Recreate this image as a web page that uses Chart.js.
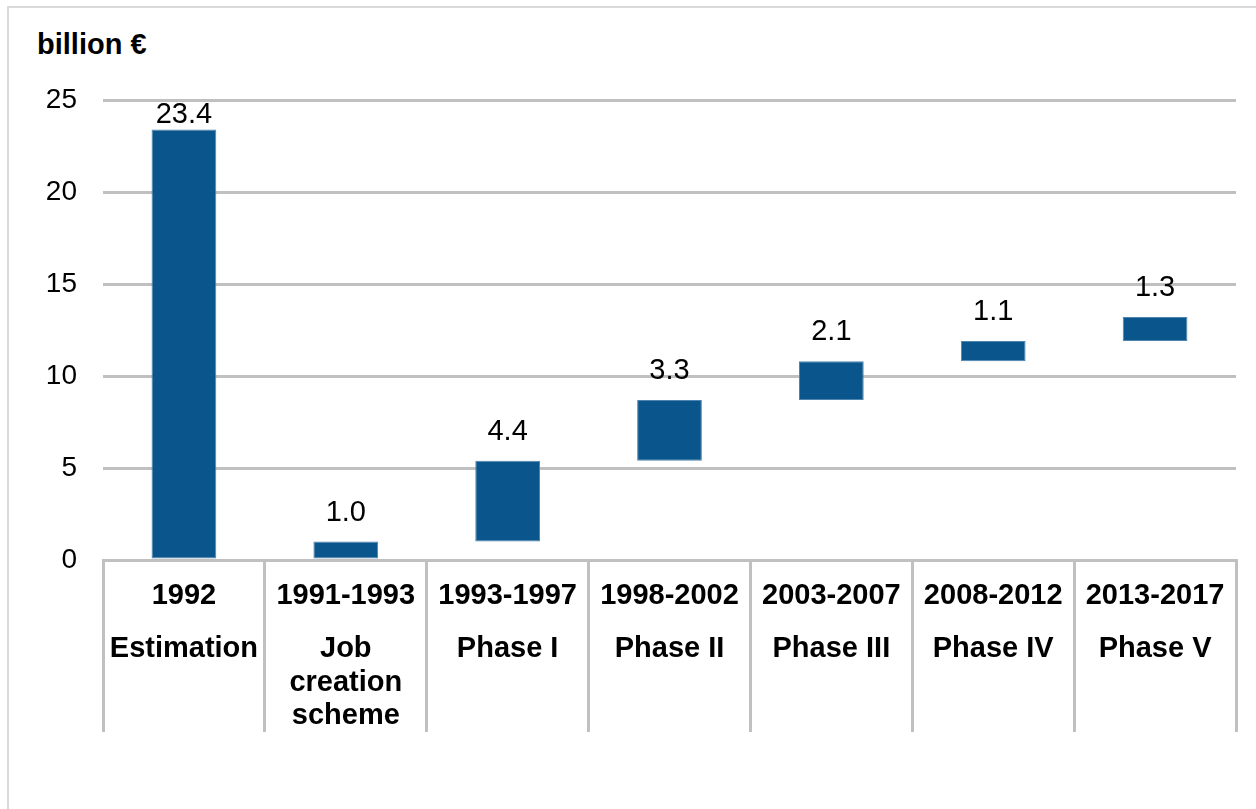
<!DOCTYPE html>
<html>
<head>
<meta charset="utf-8">
<script src="https://cdn.jsdelivr.net/npm/chart.js@4"></script>
<style>
  html, body { margin: 0; padding: 0; background: #fff; }
  #wrap { position: relative; width: 1256px; height: 809px; overflow: hidden; }
  #frame { position: absolute; left: 7px; top: 6px; width: 1300px; height: 900px;
           border-left: 2px solid #d9d9d9; border-top: 2px solid #d9d9d9; }
  #unit { position: absolute; left: 37px; top: 28px; font: bold 29px "Liberation Sans", Arial, sans-serif; color: #000; }
  canvas { position: absolute; left: 0; top: 0; }
</style>
</head>
<body>
<div id="wrap">
  <div id="frame"></div>
  <div id="unit">billion €</div>
  <canvas id="chart1" width="1256" height="809"></canvas>
</div>
<script>
var periods = ['1992', '1991-1993', '1993-1997', '1998-2002', '2003-2007', '2008-2012', '2013-2017']
var names = [['Estimation'], ['Job', 'creation', 'scheme'], ['Phase I'], ['Phase II'], ['Phase III'], ['Phase IV'], ['Phase V']]
// amount of each step and where it starts (waterfall)
var amounts = [23.4, 1.0, 4.4, 3.3, 2.1, 1.1, 1.3]
var bases = [0, 0, 1.0, 5.4, 8.7, 10.8, 11.9]
var yTicks = [0, 5, 10, 15, 20, 25]

var FONT = '"Liberation Sans", Arial, sans-serif'
var barData = []
for (var i = 0; i < amounts.length; i++) {
    barData.push([bases[i], Math.round((bases[i] + amounts[i]) * 10) / 10])
}

var labelPlugin = {
    id: 'waterfallLabels',
    afterDatasetsDraw: function (chart) {
        var ctx = chart.ctx
        var meta = chart.getDatasetMeta(0)
        var area = chart.chartArea
        ctx.save()
        ctx.fillStyle = '#000'
        ctx.textAlign = 'center'
        ctx.textBaseline = 'middle'
        ctx.font = '29px ' + FONT
        for (var i = 0; i < meta.data.length; i++) {
            var bar = meta.data[i]
            var y = Math.max(bar.y - 29, area.top + 15)
            ctx.fillText(amounts[i].toFixed(1), bar.x, y)
        }
        // category labels below the axis
        var xs = chart.scales.x
        ctx.font = 'bold 29px ' + FONT
        for (var i = 0; i < periods.length; i++) {
            var cx = xs.getPixelForValue(i)
            ctx.fillText(periods[i], cx, area.bottom + 36)
            for (var j = 0; j < names[i].length; j++) {
                ctx.fillText(names[i][j], cx, area.bottom + 89 + j * 33.5)
            }
        }
        ctx.restore()
    }
}

var ctx = document.getElementById('chart1')
var chart1 = new Chart(ctx, {
    type: 'bar',
    data: {
        labels: periods,
        datasets: [{
            label: 'billion €',
            data: barData,
            backgroundColor: '#0a568c',
            borderColor: '#4d84b0',
            borderWidth: 1,
            borderSkipped: false,
            barPercentage: 0.4,
            categoryPercentage: 1
        }]
    },
    options: {
        responsive: false,
        animation: false,
        layout: { padding: { left: 0, right: 20, top: 100, bottom: 77 } },
        plugins: { legend: { display: false }, tooltip: { enabled: false } },
        scales: {
            x: {
                offset: true,
                grid: {
                    drawOnChartArea: false,
                    drawTicks: true,
                    tickLength: 172,
                    color: '#c0c0c0',
                    lineWidth: 3
                },
                border: { display: true, color: '#c0c0c0', width: 3 },
                ticks: { display: false },
                afterFit: function (s) { s.height = 172 }
            },
            y: {
                min: 0,
                max: 25,
                afterBuildTicks: function (s) { s.ticks = yTicks.map(function (v) { return { value: v } }) },
                grid: { color: '#c0c0c0', lineWidth: 3, drawTicks: false },
                border: { display: false },
                ticks: { color: '#000', padding: 26, font: { family: FONT, size: 28 } },
                afterFit: function (s) { s.width = 103 }
            }
        }
    },
    plugins: [labelPlugin]
})
</script>
</body>
</html>
